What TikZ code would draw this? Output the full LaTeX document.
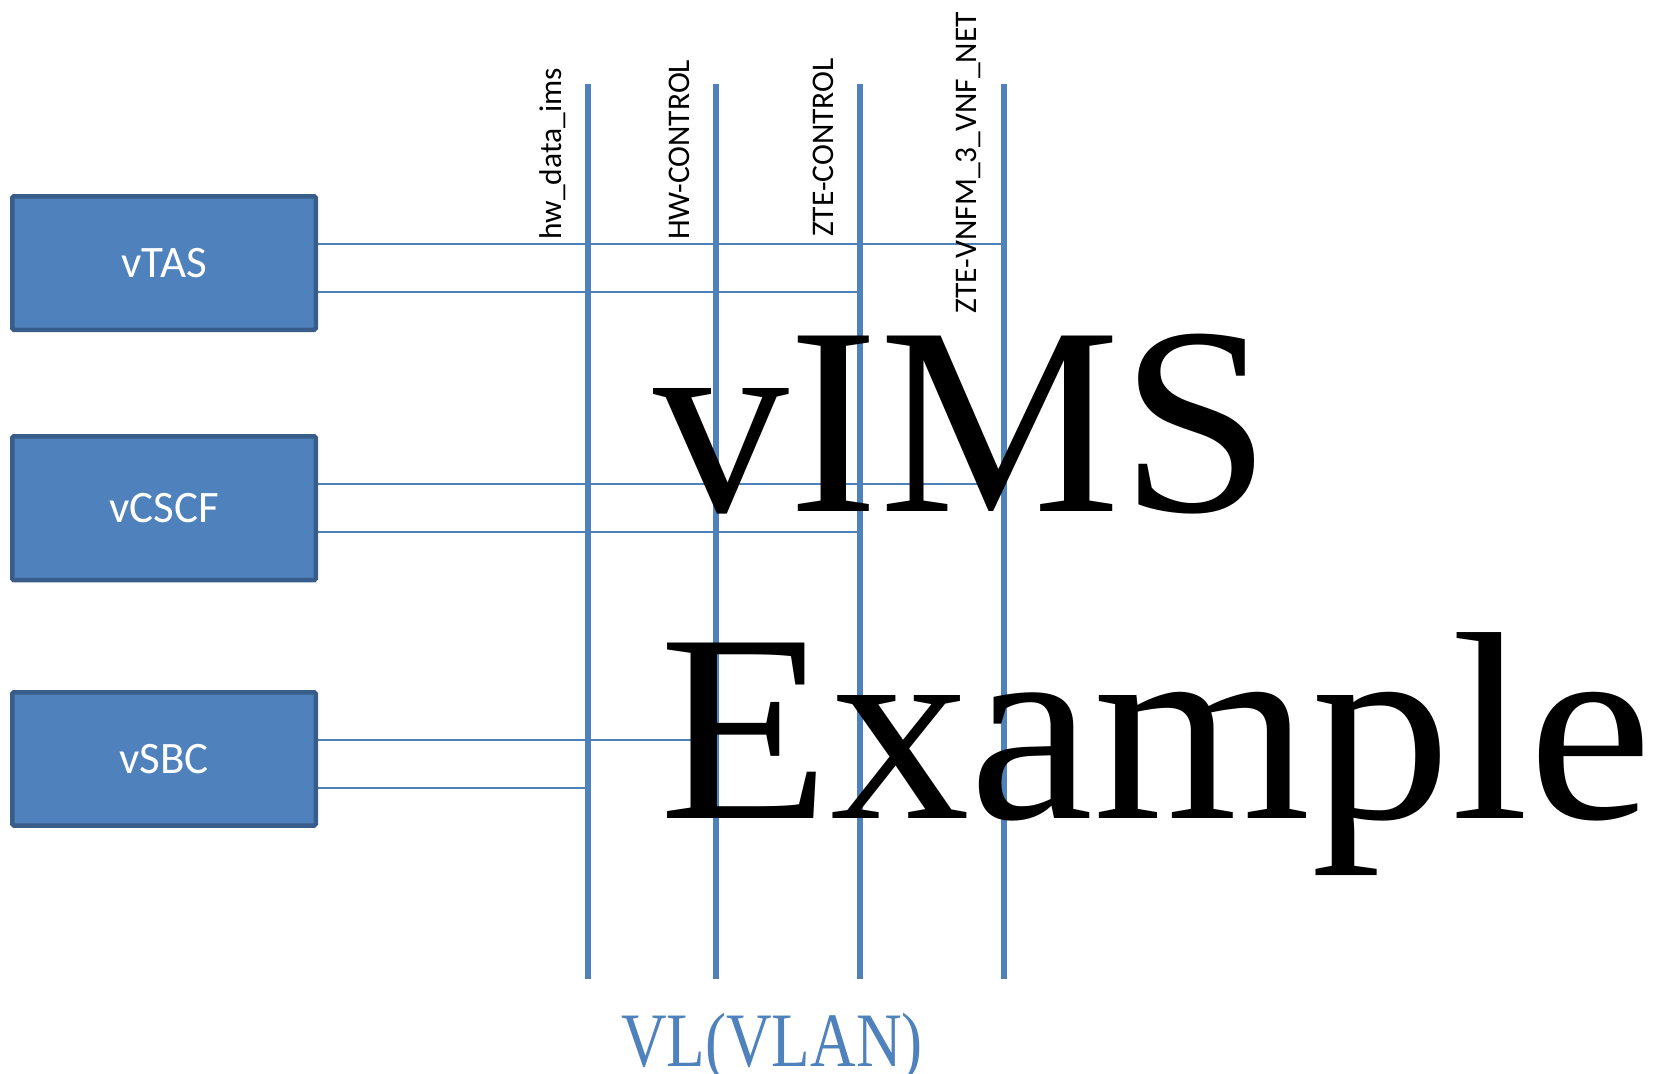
\documentclass[tikz,border=0pt]{standalone}
\usepackage{fontspec}
\usepackage{graphicx}
\setmainfont{Liberation Serif}
\newfontfamily\calibri{Carlito}
\definecolor{boxfill}{HTML}{4F81BD}
\definecolor{boxedge}{HTML}{385D8A}
\definecolor{netblue}{HTML}{4F81BD}

\tikzset{
  vnf/.style={draw=boxedge, fill=boxfill, line width=4.5pt, rounded corners=1.5pt,
    minimum width=303.5pt, text=white, font=\calibri\fontsize{45}{54}\selectfont},
  vlanline/.style={draw=netblue, line width=5.5pt},
  link/.style={draw=netblue, line width=2pt},
  netlabel/.style={rotate=90, anchor=base west, inner sep=0pt,
    font=\calibri\fontsize{31.5}{38}\selectfont},
  bigtext/.style={anchor=base west, inner sep=0pt, font=\fontsize{268}{300}\selectfont}
}

\begin{document}
\begin{tikzpicture}[x=1pt, y=-1pt]
\useasboundingbox (0,0) rectangle (1653,1073);

% VNF boxes
\node[vnf, minimum height=133.5pt] (vTAS)  at (164,263)   {vTAS};
\node[vnf, minimum height=143.8pt] (vCSCF) at (164,508.2) {vCSCF};
\node[vnf, minimum height=133.2pt] (vSBC)  at (164,758.9) {vSBC};

% virtual links (VLANs)
\coordinate (n1top) at (588,84);  \coordinate (n1bot) at (588,979);
\coordinate (n2top) at (716,84);  \coordinate (n2bot) at (716,979);
\coordinate (n3top) at (860,84);  \coordinate (n3bot) at (860,979);
\coordinate (n4top) at (1004,84); \coordinate (n4bot) at (1004,979);

% connection rows
\coordinate (r1) at (0,243.5);
\coordinate (r2) at (0,291.7);
\coordinate (r3) at (0,483.5);
\coordinate (r4) at (0,531.5);
\coordinate (r5) at (0,740);
\coordinate (r6) at (0,787.7);

\draw[link] (vTAS.east |- r1)  -- (n4top |- r1);
\draw[link] (vTAS.east |- r2)  -- (n3top |- r2);
\draw[link] (vCSCF.east |- r3) -- (n4top |- r3);
\draw[link] (vCSCF.east |- r4) -- (n3top |- r4);
\draw[link] (vSBC.east |- r5)  -- (n2top |- r5);
\draw[link] (vSBC.east |- r6)  -- (n1top |- r6);

\draw[vlanline] (n1top) -- (n1bot);
\draw[vlanline] (n2top) -- (n2bot);
\draw[vlanline] (n3top) -- (n3bot);
\draw[vlanline] (n4top) -- (n4bot);

% network names
\node[netlabel] (lab1) at (561.7,240)   {hw\_data\_ims};
\node[netlabel] (lab2) at (689.3,240)   {HW-CONTROL};
\node[netlabel] (lab3) at (833.3,237)   {ZTE-CONTROL};
\node[netlabel] (lab4) at (976.7,313.3) {ZTE-VNFM\_3\_VNF\_NET};

% title
\node[bigtext] (title1) at (653,511) {\scalebox{1.012}[1]{vIMS}};
\node[bigtext] (title2) at (659,818) {\scalebox{1.043}[1]{Example}};

% caption
\node[anchor=base west, inner sep=0pt, text=netblue] (caption) at (621,1066)
  {\scalebox{0.82}[1]{\fontsize{77}{90}\selectfont VL(VLAN)}};
\end{tikzpicture}
\end{document}
